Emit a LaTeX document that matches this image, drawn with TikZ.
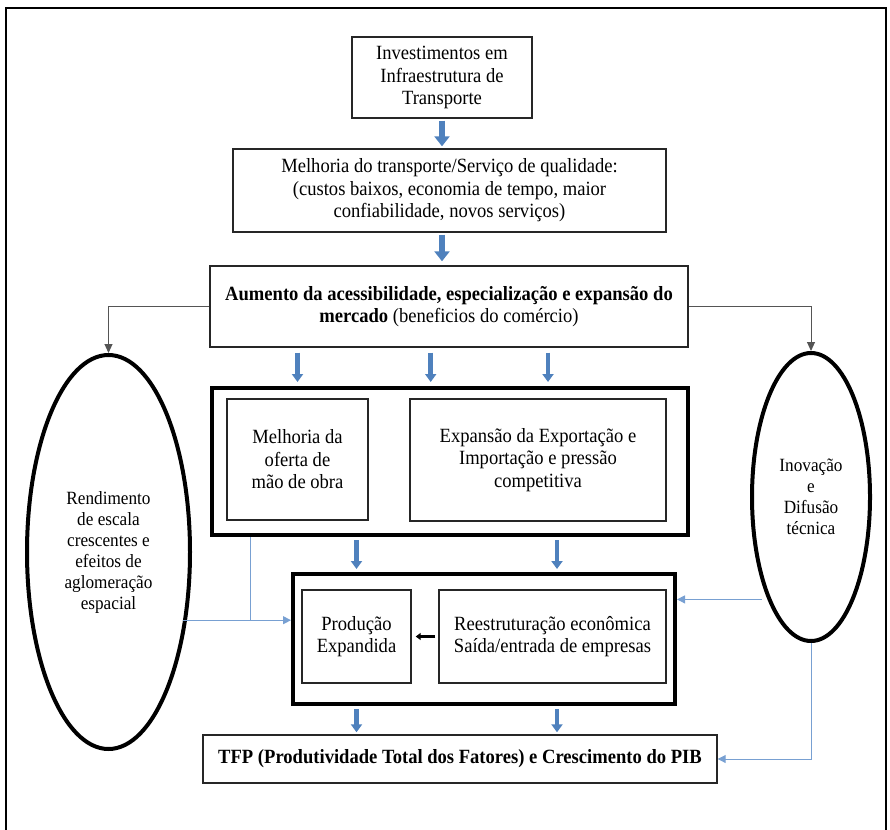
\documentclass[tikz,border=0pt]{standalone}
\usepackage{fontspec}
\setmainfont{Liberation Serif}[FakeStretch=0.92]
\usetikzlibrary{arrows.meta,calc,shapes.geometric}
\definecolor{arrowblue}{RGB}{79,129,189}
\definecolor{linkblue}{RGB}{120,160,210}
\definecolor{linkgray}{RGB}{85,85,85}
\begin{document}
\begin{tikzpicture}[x=1pt,y=-1pt,
  txt/.style={font=\fontsize{20.2}{22.5}\selectfont, align=center},
  box/.style={txt, draw=black!85, line width=1.4pt, rectangle, inner sep=0pt},
  thickbox/.style={draw=black, line width=4pt, rectangle, inner sep=0pt},
  oval/.style={ellipse, draw=black, line width=4pt, inner sep=0pt,
    font=\fontsize{18.7}{21}\selectfont, align=center},
  blk/.style={draw=arrowblue, line width=6pt, -{Triangle[width=15pt,length=10pt]}},
  blks/.style={draw=arrowblue, line width=4.5pt, -{Triangle[width=11pt,length=8pt]}},
  link/.style={draw=linkblue, line width=1pt},
  linkarrow/.style={link, -{Triangle[width=8pt,length=8pt]}},
  greylink/.style={draw=linkgray, line width=1pt, -{Triangle[width=8pt,length=9pt]}},
]
\useasboundingbox (0,0) rectangle (890,829);

% outer frame
\draw[line width=1.2pt] (6,8) rectangle (886,845);

% main chain
\node[box, minimum width=180pt, minimum height=81pt] (inv) at (442,77.5)
  {Investimentos em\\Infraestrutura de\\Transporte};
\node[box, minimum width=433pt, minimum height=83pt] (mel) at (449.5,190.5)
  {Melhoria do transporte/Serviço de qualidade:\\(custos baixos, economia de tempo, maior\\confiabilidade, novos serviços)};
\node[box, minimum width=478pt, minimum height=81pt] (aum) at (449,306.5)
  {\textbf{Aumento da acessibilidade, especialização e expansão do}\\\textbf{mercado} (beneficios do comércio)};

% first group
\node[thickbox, minimum width=476pt, minimum height=147pt] (grpA) at (450,461.5) {};
\node[box, minimum width=141pt, minimum height=121pt] (mao) at (297.5,459.5)
  {Melhoria da\\oferta de\\mão de obra};
\node[box, minimum width=256pt, minimum height=122pt] (exp) at (538,460)
  {Expansão da Exportação e\\Importação e pressão\\competitiva};

% second group
\node[thickbox, minimum width=382pt, minimum height=130pt] (grpB) at (484,639) {};
\node[box, minimum width=109pt, minimum height=93pt] (prod) at (356.5,636.5)
  {Produção\\Expandida};
\node[box, minimum width=227pt, minimum height=93pt] (ree) at (552.5,636.5)
  {Reestruturação econômica\\Saída/entrada de empresas};

% result
\node[box, minimum width=514pt, minimum height=48pt] (tfp) at (460,759)
  {\textbf{TFP (Produtividade Total dos Fatores) e Crescimento do PIB}};

% side ellipses
\node[oval, minimum width=163pt, minimum height=394pt] (lell) at (108.5,552)
  {Rendimento\\de escala\\crescentes e\\efeitos de\\aglomeração\\espacial};
\node[oval, minimum width=118pt, minimum height=288pt] (rell) at (811,497)
  {Inovação\\e\\Difusão\\técnica};

% block arrows
\draw[blk, shorten <=2pt, shorten >=2pt] (inv.south) -- (inv.south |- mel.north);
\coordinate (a2) at (inv.south |- mel.south);
\draw[blk, shorten <=2pt, shorten >=4pt] (a2) -- (a2 |- aum.north);

\coordinate (a3) at (mao.center |- aum.south);
\coordinate (a4) at ([xshift=-18.3pt]aum.south);
\coordinate (a5) at ([xshift=99pt]aum.south);
\draw[blks, shorten <=5pt, shorten >=4pt] (a3) -- (a3 |- grpA.north);
\draw[blks, shorten <=5pt, shorten >=4pt] (a4) -- (a4 |- grpA.north);
\draw[blks, shorten <=5pt, shorten >=4pt] (a5) -- (a5 |- grpA.north);

\coordinate (b1) at (prod.center |- grpA.south);
\coordinate (b2) at ([xshift=107pt]grpA.south);
\draw[blks, shorten <=3pt, shorten >=3pt] (b1) -- (b1 |- grpB.north);
\draw[blks, shorten <=3pt, shorten >=3pt] (b2) -- (b2 |- grpB.north);

\coordinate (c1) at (b1 |- grpB.south);
\coordinate (c2) at (b2 |- grpB.south);
\draw[blks, shorten <=3pt, shorten >=2pt] (c1) -- (c1 |- tfp.north);
\draw[blks, shorten <=3pt, shorten >=2pt] (c2) -- (c2 |- tfp.north);

% restructuring feeds production
\draw[line width=3pt, -{Triangle[width=7pt,length=5pt]}, shorten <=3pt, shorten >=4pt]
  (ree.west) -- (prod.east);

% market expansion feeds both side effects
\draw[greylink] (aum.west) -| (lell.north);
\draw[greylink] (aum.east) -| (rell.north);

% left side links
\coordinate (drop) at ([xshift=-200pt]grpA.south);
\draw[linkarrow] ([xshift=-4pt]lell.-41.4) -- (lell.-41.4 -| grpB.west);
\draw[link] (drop) -- (drop |- lell.-41.4);

% right side links
\draw[linkarrow] ([xshift=-6pt]rell.247.6) -- (rell.247.6 -| grpB.east);
\draw[linkarrow] (rell.south) |- (tfp.east);
\end{tikzpicture}
\end{document}
